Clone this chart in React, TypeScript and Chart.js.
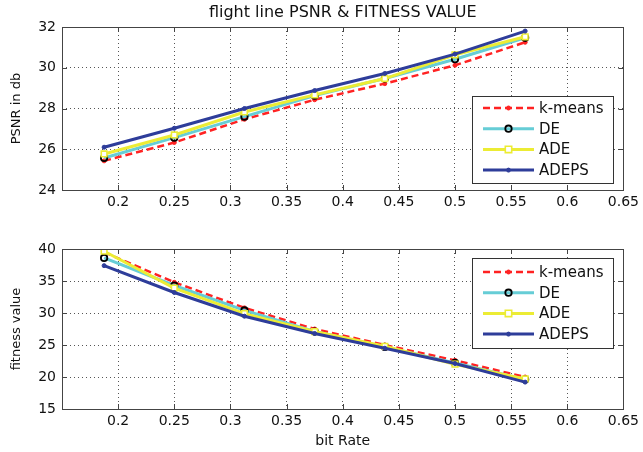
import React, { useEffect, useRef } from 'react';
import { Chart, registerables } from 'chart.js';
Chart.register(...registerables);

const bitRate = [0.1875, 0.25, 0.3125, 0.375, 0.4375, 0.5, 0.5625];
const seriesNames = ['k-means', 'DE', 'ADE', 'ADEPS'];

const psnrKmeans = [25.43, 26.33, 27.47, 28.43, 29.22, 30.12, 31.25];
const psnrDE = [25.57, 26.57, 27.6, 28.63, 29.47, 30.42, 31.47];
const psnrADE = [25.77, 26.7, 27.83, 28.67, 29.47, 30.63, 31.52];
const psnrADEPS = [26.1, 27.03, 28.0, 28.88, 29.72, 30.67, 31.8];

const fitKmeans = [39.5, 34.8, 30.8, 27.5, 25.0, 22.6, 20.0];
const fitDE = [38.6, 34.3, 30.4, 27.1, 24.7, 22.2, 19.6];
const fitADE = [39.65, 33.9, 29.9, 27.1, 24.8, 22.0, 19.7];
const fitADEPS = [37.4, 33.2, 29.5, 26.8, 24.5, 22.1, 19.2];

const xTicks = [0.15, 0.2, 0.25, 0.3, 0.35, 0.4, 0.45, 0.5, 0.55, 0.6, 0.65];
const psnrTicks = [24, 26, 28, 30, 32];
const fitTicks = [15, 20, 25, 30, 35, 40];

const FONT = 'DejaVu Sans';
const W = 643;

const styles = [
  { color: '#ff2222', width: 2.5, dash: [7, 4], point: 'circle', radius: 2, pBorder: '#ff2222', pBg: '#ff2222', pBw: 1 },
  { color: '#66cdd6', width: 3, dash: [], point: 'circle', radius: 3.2, pBorder: '#000000', pBg: 'rgba(255,255,255,0)', pBw: 1.8 },
  { color: '#ecec34', width: 3, dash: [], point: 'rect', radius: 4, pBorder: '#ecec34', pBg: '#ffffff', pBw: 1.6 },
  { color: '#2e3d9a', width: 3, dash: [], point: 'circle', radius: 2, pBorder: '#2e3d9a', pBg: '#2e3d9a', pBw: 1 },
];

function drawMarker(ctx: CanvasRenderingContext2D, s: any, x: number, y: number) {
  ctx.save();
  ctx.setLineDash([]);
  ctx.lineWidth = s.pBw;
  ctx.strokeStyle = s.pBorder;
  ctx.fillStyle = s.pBg;
  ctx.beginPath();
  if (s.point === 'rect') {
    const r = s.radius * 0.8;
    ctx.rect(x - r, y - r, 2 * r, 2 * r);
  } else {
    ctx.arc(x, y, s.radius, 0, Math.PI * 2);
  }
  ctx.fill();
  ctx.stroke();
  ctx.restore();
}

const matlabPlugin = {
  id: 'matlabFrame',
  afterDatasetsDraw(chart: any, _args: any, opts: any) {
    const ctx: CanvasRenderingContext2D = chart.ctx;
    const { left, right, top, bottom } = chart.chartArea;
    ctx.save();
    ctx.setLineDash([]);
    ctx.strokeStyle = '#444';
    ctx.lineWidth = 1;
    ctx.strokeRect(Math.round(left) + 0.5, Math.round(top) + 0.5, Math.round(right - left), Math.round(bottom - top));
    const xs = chart.scales.x;
    const ys = chart.scales.y;
    ctx.beginPath();
    xs.ticks.forEach((t: any) => {
      const px = Math.round(xs.getPixelForValue(t.value)) + 0.5;
      ctx.moveTo(px, bottom); ctx.lineTo(px, bottom - 5);
      ctx.moveTo(px, top); ctx.lineTo(px, top + 5);
    });
    ys.ticks.forEach((t: any) => {
      const py = Math.round(ys.getPixelForValue(t.value)) + 0.5;
      ctx.moveTo(left, py); ctx.lineTo(left + 5, py);
      ctx.moveTo(right, py); ctx.lineTo(right - 5, py);
    });
    ctx.stroke();

    const bw = 141, bh = opts.boxH;
    const bx = Math.round(right - 10 - bw);
    const by = Math.round(top + opts.boxTop);
    ctx.fillStyle = '#ffffff';
    ctx.fillRect(bx, by, bw, bh);
    ctx.strokeStyle = '#333';
    ctx.strokeRect(bx + 0.5, by + 0.5, bw, bh);
    ctx.font = `15px "${FONT}"`;
    ctx.textBaseline = 'middle';
    ctx.textAlign = 'left';
    seriesNames.forEach((name, i) => {
      const s = styles[i];
      const y = by + opts.first + i * opts.step;
      ctx.strokeStyle = s.color;
      ctx.lineWidth = s.width;
      ctx.setLineDash(s.dash);
      ctx.beginPath();
      ctx.moveTo(bx + 11, y);
      ctx.lineTo(bx + 62, y);
      ctx.stroke();
      drawMarker(ctx, s, bx + 36.5, y);
      ctx.fillStyle = '#111';
      ctx.fillText(name, bx + 67, y + 1);
    });
    ctx.restore();
  },
};

function makeDatasets(series: number[][]) {
  return series.map((vals, i) => {
    const s = styles[i];
    return {
      label: seriesNames[i],
      data: bitRate.map((x, j) => ({ x, y: vals[j] })),
      borderColor: s.color,
      backgroundColor: s.color,
      borderWidth: s.width,
      borderDash: s.dash,
      pointStyle: s.point,
      pointRadius: s.radius,
      pointBorderColor: s.pBorder,
      pointBackgroundColor: s.pBg,
      pointBorderWidth: s.pBw,
      tension: 0,
      fill: false,
      order: 4 - i,
    };
  });
}

function makeConfig(opts: {
  series: number[][]; yTicks: number[]; yTitle: string; title?: string; xTitle?: string;
  h: number; chartTop: number; chartBottom: number; legend: any;
}): any {
  const gridCommon = { color: '#555', lineWidth: 1, drawTicks: false };
  return {
    type: 'line',
    data: { datasets: makeDatasets(opts.series) },
    plugins: [matlabPlugin],
    options: {
      animation: false,
      responsive: false,
      devicePixelRatio: 1,
      layout: { padding: { top: opts.title ? 0 : opts.chartTop, right: 16, left: 0, bottom: 0 } },
      plugins: {
        legend: { display: false },
        tooltip: { enabled: false },
        title: opts.title
          ? { display: true, text: opts.title, fullSize: false, color: '#111', font: { family: FONT, size: 16, weight: 'normal' }, padding: { top: 3, bottom: opts.chartTop - 3 - 19.2 } }
          : { display: false },
        matlabFrame: opts.legend,
      },
      scales: {
        x: {
          type: 'linear',
          min: xTicks[0],
          max: xTicks[xTicks.length - 1],
          afterBuildTicks: (sc: any) => { sc.ticks = xTicks.map((v) => ({ value: v })); },
          afterFit: (sc: any) => { sc.height = opts.h - opts.chartBottom; },
          grid: gridCommon,
          border: { display: false, dash: [1, 3] },
          ticks: {
            color: '#111',
            font: { family: FONT, size: 14 },
            padding: 4,
            maxRotation: 0,
            autoSkip: false,
            callback: (v: any) => (v === xTicks[0] ? '' : String(v)),
          },
          title: opts.xTitle
            ? { display: true, text: opts.xTitle, color: '#111', font: { family: FONT, size: 14 }, padding: { top: 0, bottom: 2 } }
            : { display: false },
        },
        y: {
          type: 'linear',
          min: opts.yTicks[0],
          max: opts.yTicks[opts.yTicks.length - 1],
          afterBuildTicks: (sc: any) => { sc.ticks = opts.yTicks.map((v) => ({ value: v })); },
          afterFit: (sc: any) => { sc.width = 62; },
          grid: gridCommon,
          border: { display: false, dash: [1, 3] },
          ticks: { color: '#111', font: { family: FONT, size: 14 }, padding: 6, callback: (v: any) => String(v) },
          title: { display: true, text: opts.yTitle, color: '#111', font: { family: FONT, size: 13 }, padding: { top: 9, bottom: 0 } },
        },
      },
    },
  };
}

function ChartCanvas({ config, top, h }: { config: any; top: number; h: number }) {
  const ref = useRef<HTMLCanvasElement | null>(null);
  useEffect(() => {
    if (!ref.current) return;
    const chart = new Chart(ref.current, config);
    return () => chart.destroy();
  }, []);
  return <canvas ref={ref} width={W} height={h} style={{ position: 'absolute', left: 0, top, width: W, height: h }} />;
}

export default function App() {
  const topH = 215;
  const botH = 452 - topH;
  const topCfg = makeConfig({
    series: [psnrKmeans, psnrDE, psnrADE, psnrADEPS],
    yTicks: psnrTicks,
    yTitle: 'PSNR in db',
    title: 'flight line PSNR & FITNESS VALUE',
    h: topH,
    chartTop: 27,
    chartBottom: 190,
    legend: { boxTop: 69, boxH: 87, first: 12, step: 20.7 },
  });
  const botCfg = makeConfig({
    series: [fitKmeans, fitDE, fitADE, fitADEPS],
    yTicks: fitTicks,
    yTitle: 'fitness value',
    xTitle: 'bit Rate',
    h: botH,
    chartTop: 249 - topH,
    chartBottom: 409 - topH,
    legend: { boxTop: 9, boxH: 90, first: 14, step: 20.7 },
  });
  return (
    <div style={{ position: 'fixed', left: 0, top: 0, width: W, height: 452, background: '#fff', overflow: 'hidden' }}>
      <ChartCanvas config={topCfg} top={0} h={topH} />
      <ChartCanvas config={botCfg} top={topH} h={botH} />
    </div>
  );
}
